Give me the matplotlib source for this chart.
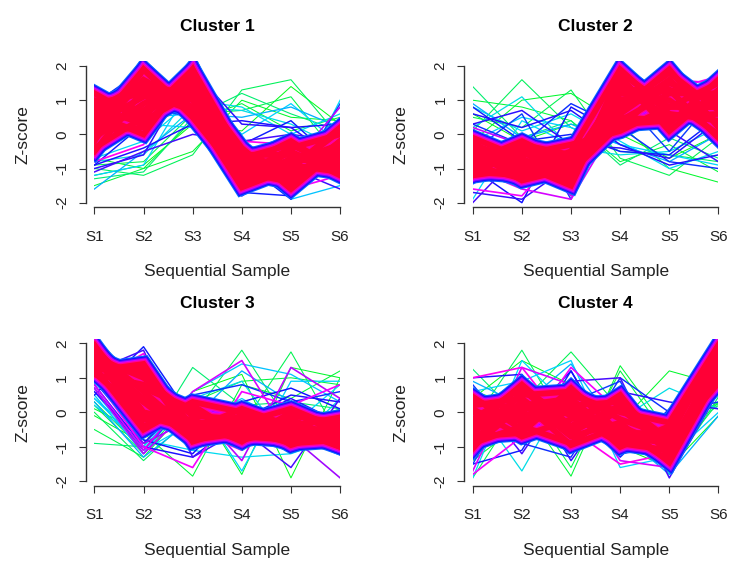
import numpy as np
import matplotlib.pyplot as plt
from matplotlib.colors import LinearSegmentedColormap
from matplotlib.patches import Rectangle

plt.rcParams['font.family'] = ['Liberation Sans', 'DejaVu Sans']

samples = ['S1', 'S2', 'S3', 'S4', 'S5', 'S6']
titles = ['Cluster 1', 'Cluster 2', 'Cluster 3', 'Cluster 4']

# z-score profiles (S1..S6).
# core = high membership profiles (red band), fringe = lower membership lines
c1_core = [
	[-0.5, 1.3, 1.2, -0.9, -0.8, -0.3], [-0.4, 0.5, 1.9, -0.6, -1.0, 0.2],
	[-0.2, 1.9, 0.5, -1.3, -0.5, -1.2], [-0.1, 0.9, 1.6, -0.5, -1.4, -0.2],
	[0.0, 1.6, 0.8, -1.5, -0.7, -0.9], [0.1, 0.2, 1.8, -0.7, -0.3, -1.0],
	[0.2, 1.9, 0.6, -1.0, -1.2, -0.6], [0.3, 1.1, 1.3, -1.2, -0.4, 0.0],
	[0.4, 0.6, 1.5, -0.4, -1.6, -0.4], [0.5, 1.4, 1.0, -0.8, -1.1, -0.8],
	[0.6, 0.0, 1.9, -1.1, -1.4, -0.5], [0.7, 1.5, 1.1, -1.4, -0.9, -1.1],
	[0.8, 0.3, 1.4, -0.6, -0.6, -0.7], [0.9, 1.2, 0.7, -1.55, -1.0, 0.1],
	[1.0, 0.7, 1.7, -0.9, -0.2, -1.1], [1.2, 0.4, 1.2, -1.2, -1.3, -0.2],
]
c1_fringe = [
	[-0.8, -0.3, 1.9, -0.2, -0.3, -0.3], [1.2, 0.6, 1.4, -0.4, -1.6, -1.2],
	[-0.6, 1.8, 0.5, -0.9, -0.2, -0.6], [0.3, -0.2, 1.7, -1.7, -0.9, 0.8],
	[1.3, 0.9, 1.1, -1.8, -0.3, -1.2], [-1.0, -0.6, 1.9, 0.3, 0.2, -0.8],
	[0.1, 2.0, 0.6, -0.8, -1.9, 0.0], [-0.9, 0.3, 1.4, -0.3, 0.4, -0.9],
	[0.5, 0.8, 0.5, -1.2, -1.5, 0.9], [-1.1, -0.5, 0.0, -0.2, 0.0, -0.2],
	[-0.9, -0.4, 0.3, 0.4, 0.2, 0.3], [0.9, 1.9, 0.4, -1.7, -1.8, 0.0],
	[-0.3, 0.8, 2.0, -1.8, -1.0, -1.6],
	[-1.6, -0.5, 0.6, 0.5, 0.8, 0.2], [-1.2, -0.9, 1.5, 0.0, 0.9, -0.3],
	[0.6, 0.3, 0.2, -0.6, -1.8, 1.0], [-0.8, -0.6, 0.8, 0.7, 0.3, -0.4],
	[-0.7, -0.2, 1.0, 0.8, 0.0, 0.6], [1.2, 0.5, 0.6, -0.1, -1.9, -1.5],
	[-1.3, -1.1, 0.5, 1.2, 0.6, 0.1], [-1.0, -1.2, -0.6, 1.3, 1.6, -0.1],
	[-0.9, -0.8, 0.6, 0.7, 1.1, -0.7], [-1.5, -1.0, 0.4, 0.9, 0.1, 0.5],
	[-0.7, -1.0, -0.5, 1.0, 0.5, 0.4], [-1.2, -0.9, 0.3, 0.1, 1.4, 0.3],
]
c1_memb = [0.74, 0.72, 0.7, 0.68, 0.6, 0.58, 0.56, 0.55, 0.53, 0.6, 0.57, 0.55, 0.59,
	0.45, 0.43, 0.42, 0.4, 0.41, 0.44, 0.3, 0.28, 0.27, 0.25, 0.24, 0.22]

c2_core = [
	[-0.2, -1.3, -0.5, 1.9, 0.6, 0.4], [-1.2, -0.4, -1.0, 0.8, 1.8, 0.7],
	[-0.6, -0.9, -1.5, 1.5, 0.3, 1.6], [-0.9, -0.3, -0.6, 0.4, 1.2, 1.2],
	[-0.4, -1.1, -1.2, 1.2, 1.0, 0.0], [-1.1, -1.2, -0.7, 0.2, 1.5, 0.9],
	[-0.7, -0.5, -1.3, 1.7, 0.1, 1.3], [-0.3, -0.8, -0.8, 0.6, 1.6, 0.3],
	[-1.0, -0.6, -0.3, 0.1, 0.8, 1.5], [-0.5, -1.35, -1.0, 1.0, 1.3, -0.1],
	[-0.8, -0.2, -0.9, 1.4, 0.5, 0.6], [-1.2, -1.0, -0.5, 0.5, 0.4, 1.1],
	[-0.1, -0.7, -1.4, 1.8, 0.8, 0.8], [-0.9, -1.3, -0.6, 0.7, 1.9, 0.2],
	[-0.6, -0.5, -1.1, 0.3, 0.4, 0.9], [-0.4, -1.0, -0.8, 1.3, 1.3, 1.0],
]
c2_fringe = [
	[-1.6, -1.8, -0.2, 0.6, 1.3, 1.7], [0.2, -0.3, -1.8, 1.3, 1.0, -0.4],
	[-1.0, -1.6, -1.9, 0.5, 1.6, 1.5],
	[-2.0, -0.5, -0.3, 2.0, 0.3, 0.5], [0.3, 0.7, -0.3, -0.4, -0.7, 0.4],
	[-1.0, -2.0, 0.8, 0.0, 2.0, 0.2], [0.8, -0.2, 0.0, -0.5, -0.6, 0.5],
	[-0.5, 0.6, -1.9, 1.1, -0.5, 1.2], [0.6, 0.2, 0.7, -0.3, -0.9, -0.6],
	[-1.7, -1.9, -0.9, 1.0, 0.1, -0.8], [0.3, -0.3, 0.9, 0.2, -0.8, -1.0],
	[0.9, -0.1, 0.3, -0.3, -0.8, 0.0], [-1.9, 0.4, -0.3, 0.9, 0.7, 0.2],
	[0.2, 1.1, -0.4, -0.6, -0.5, 0.2], [-0.2, 0.5, 0.2, -0.3, -0.6, -0.9],
	[0.8, 0.1, 0.6, -0.2, -1.0, -0.5],
	[1.4, -0.1, 0.4, -0.9, -0.1, -0.7], [0.1, 1.6, 0.2, -0.5, -0.6, -0.8],
	[0.5, 0.2, 1.3, -0.7, -1.2, -0.1], [1.0, 0.8, 0.4, -0.8, -0.3, -1.1],
	[-0.2, 1.0, 1.2, 0.3, -1.0, -1.4], [0.6, -0.2, 0.3, 0.0, -0.7, 0.0],
]
c2_memb = [0.72, 0.69, 0.7, 0.6, 0.58, 0.56, 0.55, 0.53, 0.57, 0.59, 0.54,
	0.45, 0.42, 0.4, 0.43, 0.41, 0.3, 0.28, 0.27, 0.25, 0.24, 0.22]

c3_core = [
	[1.95, 0.0, -0.3, -0.5, -0.6, -0.6], [1.8, 0.6, -0.6, -0.4, -0.3, -0.9],
	[1.7, -0.4, 0.2, -0.7, -0.8, -0.4], [1.6, 1.0, -0.1, -0.2, -0.9, -0.8],
	[1.5, 0.3, -0.8, -0.6, -0.1, -0.3], [1.4, 1.2, -0.4, -0.8, -0.5, -1.0],
	[1.3, -0.5, 0.3, 0.0, -0.6, -0.7], [1.2, 1.4, -0.7, -0.3, 0.1, -0.5],
	[1.1, 0.8, 0.0, -0.5, -0.9, -0.2], [1.9, 0.3, -0.5, 0.1, -0.4, -1.0],
	[1.65, -0.2, -0.2, -0.85, 0.0, -0.6], [1.25, 1.3, -0.85, -0.4, -0.7, -0.3],
	[1.45, 0.7, 0.1, -0.7, -0.2, -0.8], [1.15, -0.1, -0.5, -0.1, -0.95, -0.5],
	[1.55, 0.4, -0.3, -0.3, -0.4, -0.15], [1.35, 1.1, -0.6, -0.6, -0.3, -0.7],
]
c3_fringe = [
	[0.9, 1.7, -0.5, -1.1, 0.0, -1.0], [1.0, -1.0, -1.6, 0.6, 0.2, 0.8],
	[0.8, -1.1, 0.6, 1.5, -0.8, -1.0], [0.7, -1.2, 0.2, -1.4, 1.3, 0.4],
	[1.2, 1.8, -1.3, -0.5, -1.6, 0.4], [0.6, -0.9, 0.5, -0.3, 0.4, -0.3],
	[0.9, -0.8, -1.2, 0.3, 0.7, 0.1], [0.5, 1.9, -0.2, -0.4, -0.9, -0.9],
	[0.8, -1.0, -1.3, -0.2, 0.5, 0.3], [1.0, -0.9, -0.2, 0.3, -0.7, -1.9],
	[0.7, -1.1, 0.5, 0.8, 0.3, 0.6],
	[0.3, -1.3, -0.2, 1.2, 0.3, -0.3], [0.4, -1.0, 0.5, -1.7, 0.9, 0.9],
	[0.6, -1.1, -0.3, 0.4, -0.4, 0.8], [0.2, -0.9, 0.4, 0.9, -1.0, 0.4],
	[0.5, -1.2, 0.6, 1.4, 1.1, 0.3], [0.4, -0.8, -1.1, -1.3, -1.2, -0.7],
	[-0.9, -1.0, 1.3, 0.2, 0.3, 0.1], [0.0, -1.4, -0.1, 1.8, -0.4, 0.1],
	[0.2, -1.2, 0.4, -0.4, 1.75, -0.75], [0.1, -0.6, -1.85, 0.8, 0.4, 1.2],
	[-0.1, -0.9, 0.5, -1.8, 1.3, 1.0], [0.3, -1.1, 0.6, 1.1, -1.9, 1.0],
	[-0.5, -1.3, 0.3, 0.9, 1.0, 0.8],
]
c3_memb = [0.74, 0.72, 0.7, 0.68, 0.6, 0.58, 0.56, 0.55, 0.57, 0.66, 0.54,
	0.45, 0.43, 0.42, 0.4, 0.44, 0.41, 0.3, 0.28, 0.27, 0.25, 0.24, 0.22, 0.26]

c4_core = [
	[0.4, -0.3, 0.1, -0.5, -1.4, 1.9], [-0.2, 0.7, -0.6, 0.2, -0.9, 1.2],
	[-1.0, 0.2, 0.4, -0.8, -0.5, 1.7], [0.1, -0.7, -0.2, 0.4, -1.2, 1.5],
	[-0.6, 0.5, 0.6, -0.2, -0.7, 1.9], [-0.9, -0.4, -0.9, 0.1, -1.0, 1.0],
	[0.3, 0.1, 0.3, -1.0, -0.4, 1.6], [-0.4, 0.8, -0.4, 0.5, -1.3, 1.3],
	[-0.7, -0.6, 0.7, -0.6, -0.6, 1.8], [0.2, 0.4, -0.7, -0.3, -1.45, 1.1],
	[-0.3, -0.1, 0.2, 0.3, -0.8, 0.85], [-1.05, 0.6, -0.1, -0.9, -1.1, 1.4],
	[0.45, -0.5, 0.5, 0.0, -0.3, 1.95], [-0.8, 0.3, -0.95, -0.4, -1.0, 1.5],
	[0.0, -0.2, 0.0, -0.7, -0.9, 1.0], [-0.5, 0.0, -0.5, 0.2, -1.2, 1.7],
]
c4_fringe = [
	[1.0, 1.3, -0.5, -1.5, -1.2, 0.9], [-1.8, -0.7, 1.3, 0.0, -0.3, 1.5],
	[-1.7, 1.3, 0.8, -1.4, -1.6, 1.3],
	[0.6, -1.2, 0.9, 1.0, -1.9, 0.6], [-0.6, 1.0, -1.4, 0.6, 0.3, 0.1],
	[0.4, -0.3, 1.2, -1.2, -1.0, 0.9], [-1.5, 0.9, 0.3, 0.9, -1.6, 1.0],
	[1.0, 1.1, -0.7, 0.5, -1.1, 0.7], [-1.5, -1.1, 1.2, -1.3, 0.1, 1.1],
	[0.8, -0.9, -1.3, 1.0, 0.0, 0.3],
	[0.9, 0.2, 1.4, -0.6, -1.8, -0.1], [-1.9, 1.5, 0.1, -0.2, -0.1, 0.6],
	[0.3, -1.7, 0.8, -0.2, 0.7, 0.1], [0.6, 0.9, 1.5, -1.6, -1.3, 0.0],
	[1.25, -0.2, 0.2, 0.1, -1.8, 0.45], [-0.3, 1.8, -0.6, 0.3, -1.5, 0.3],
	[-1.9, 0.3, 1.75, 0.1, -0.5, 0.25], [0.6, 0.2, -1.85, 1.35, -0.6, 0.3],
	[-1.4, -0.3, 0.0, -0.3, 1.2, 0.8], [0.4, 1.5, 0.8, -1.0, -1.6, -0.1],
	[-1.2, 0.5, -1.6, 1.2, -0.8, 0.2],
]
c4_memb = [0.74, 0.72, 0.7, 0.6, 0.58, 0.56, 0.53, 0.57, 0.55, 0.54,
	0.45, 0.42, 0.4, 0.43, 0.3, 0.28, 0.27, 0.25, 0.24, 0.22, 0.26]

# low membership -> green, high -> red
colo = LinearSegmentedColormap.from_list('fancy', [
	(0.0, '#00ff00'), (0.28, '#00d8ff'), (0.45, '#1010ff'),
	(0.66, '#ff00ff'), (0.85, '#ff0040'), (1.0, '#ff0033')])

def mcol(m):
	return colo((m - 0.2) / 0.8)

# stacked widths for the core profiles: cyan-blue rim out to red centre
core_layers = [(0.5, 12.0), (0.56, 10.5), (0.63, 9.0), (0.7, 7.5), (0.8, 6.0), (0.97, 4.2)]

def draw_cluster(ax, core, fringe, memb, title):
	x = np.arange(1, len(samples) + 1)
	fringe = np.array(fringe)
	memb = np.array(memb)
	# lines stop cleanly at S1 and S6
	clip = Rectangle((1, -2.135), 5, 4.27, transform = ax.transData)
	for i in np.argsort(memb):
		ln, = ax.plot(x, fringe[i], c = mcol(memb[i]), lw = 0.7 + (memb[i] - 0.2))
		ln.set_clip_path(clip)
	for m, lw in core_layers:
		for prof in core:
			ln, = ax.plot(x, prof, c = mcol(m), lw = lw, solid_joinstyle = 'miter',
				solid_capstyle = 'projecting')
			ln.set_clip_path(clip)
	ax.set_xlim(0.83, 6.17)
	ax.set_ylim(-2.135, 2.135)
	for s in ['top', 'right']:
		ax.spines[s].set_visible(False)
	ax.spines['left'].set_bounds(-2, 2)
	ax.spines['bottom'].set_bounds(1, 6)
	for s in ['left', 'bottom']:
		ax.spines[s].set_color('#333333')
		ax.spines[s].set_linewidth(1.0)
	ax.set_xticks(x)
	ax.set_xticklabels(samples, fontsize = 11, color = '#222222')
	ax.set_yticks([-2, -1, 0, 1, 2])
	ax.set_yticklabels(['-2', '-1', '0', '1', '2'], fontsize = 11, rotation = 90,
		va = 'center', color = '#222222')
	ax.tick_params(axis = 'x', length = 5, color = '#333333', pad = 11)
	ax.tick_params(axis = 'y', length = 5, color = '#333333', pad = 7)
	ax.set_xlabel('Sequential Sample', fontsize = 12.5, color = '#222222')
	ax.xaxis.set_label_coords(0.5, -0.44)
	ax.xaxis.label.set_va('center')
	ax.set_ylabel('Z-score', fontsize = 12.5, color = '#222222')
	ax.yaxis.set_label_coords(-0.24, 0.5)
	ax.yaxis.label.set_va('center')
	ax.set_title(title, fontsize = 12.5, fontweight = 'bold', y = 1.21, pad = 0)

fig = plt.figure(figsize = (7.29, 5.61), dpi = 100)
positions = [[0.118, 0.6305, 0.360, 0.260], [0.637, 0.6305, 0.360, 0.260],
	[0.118, 0.1337, 0.360, 0.2627], [0.637, 0.1337, 0.360, 0.2627]]
data = [(c1_core, c1_fringe, c1_memb), (c2_core, c2_fringe, c2_memb),
	(c3_core, c3_fringe, c3_memb), (c4_core, c4_fringe, c4_memb)]

for pos, (core, fringe, memb), title in zip(positions, data, titles):
	ax = fig.add_axes(pos)
	draw_cluster(ax, core, fringe, memb, title)

fig.savefig('out.png', dpi = 100)
